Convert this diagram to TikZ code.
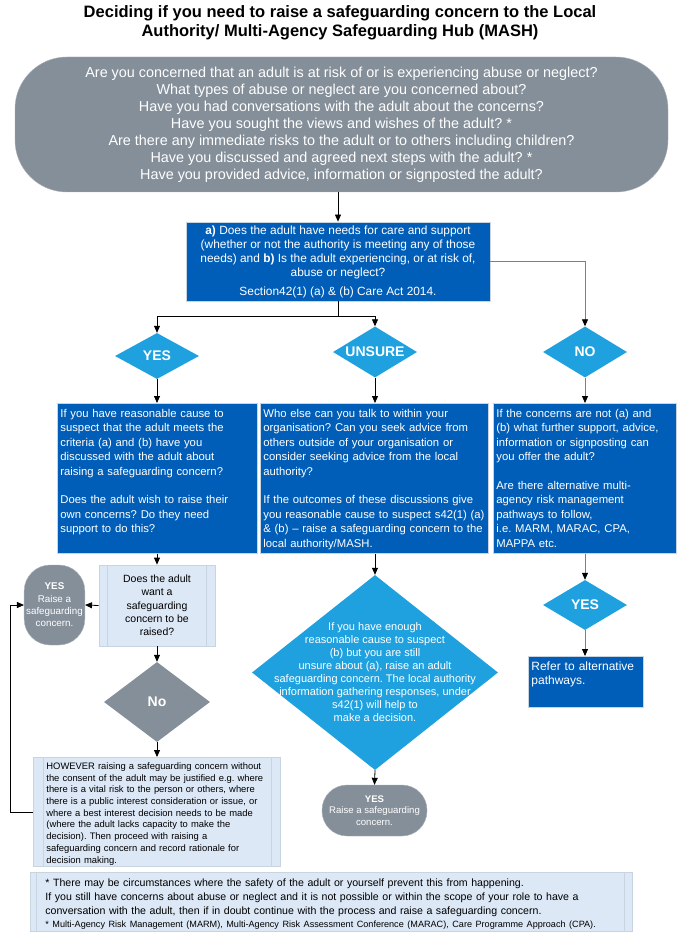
\documentclass[tikz,border=0pt]{standalone}
\usepackage{fontspec}
\setmainfont{Liberation Sans}
\usetikzlibrary{shapes.geometric,arrows.meta}
\frenchspacing

\definecolor{mashgray}{HTML}{858F99}
\definecolor{mashblue}{HTML}{005EB8}
\definecolor{mashcyan}{HTML}{1FA1DF}
\definecolor{mashpale}{HTML}{DCE8F6}
\definecolor{mashedge}{HTML}{C8D4E0}
\definecolor{mashline}{HTML}{7F7F7F}

\tikzset{
  heading/.style={align=center, font=\bfseries\fontsize{16.5}{19.5}\selectfont},
  greyend/.style={fill=mashgray, draw=mashgray!70!white, text=white, align=center, inner sep=2pt},
  bluefill/.style={fill=mashblue, draw=mashedge, line width=0.8pt, text=white},
  darkbox/.style={bluefill, anchor=north west, align=left, inner xsep=3pt, inner ysep=3pt,
    text height=11pt, font=\fontsize{11.3}{14.4}\selectfont},
  palebox/.style={fill=mashpale, draw=mashedge, line width=0.8pt, text=black},
  choice/.style={diamond, fill=mashcyan, text=white, inner sep=0pt, font=\bfseries\fontsize{14}{16}\selectfont},
  flow/.style={-{Triangle[length=7pt,width=6pt]}, line width=0.8pt},
  flowgrey/.style={-{Triangle[length=7pt,width=6pt,color=black]}, line width=0.8pt, draw=mashline},
}

\begin{document}
\begin{tikzpicture}[x=1pt,y=-1pt]
  \useasboundingbox (0,0) rectangle (680,933);

  % heading and opening questions
  \node[heading] (head) at (340,23) {Deciding if you need to raise a safeguarding concern to the Local\\Authority/ Multi-Agency Safeguarding Hub (MASH)};
  \node[greyend, minimum width=653pt, minimum height=135pt, rounded corners=52pt,
        font=\fontsize{14.4}{17}\selectfont] (concern) at (341.5,124.5)
    {Are you concerned that an adult is at risk of or is experiencing abuse or neglect?\\
     What types of abuse or neglect are you concerned about?\\
     Have you had conversations with the adult about the concerns?\\
     Have you sought the views and wishes of the adult? *\\
     Are there any immediate risks to the adult or to others including children?\\
     Have you discussed and agreed next steps with the adult? *\\
     Have you provided advice, information or signposted the adult?};

  \node[bluefill, align=center, minimum width=304pt, minimum height=79pt,
        font=\fontsize{11.9}{14}\selectfont] (needs) at (338,261.5)
    {\textbf{a)} Does the adult have needs for care and support\\
     (whether or not the authority is meeting any of those\\
     needs) and \textbf{b)} Is the adult experiencing, or at risk of,\\
     abuse or neglect?\\[5pt]
     Section42(1) (a) \& (b) Care Act 2014.};

  % three answers
  \node[choice, aspect=1.8, minimum width=84pt, minimum height=46pt] (yes) at (157,356) {YES};
  \node[choice, aspect=1.6, minimum width=84pt, minimum height=51pt] (unsure) at (375,352) {UNSURE};
  \node[choice, aspect=1.6, minimum width=84pt, minimum height=51pt] (no) at (585,352) {NO};

  \node[darkbox, minimum width=200pt, minimum height=150pt, text width=194pt, text depth=133pt] (yesbox) at (57,403)
    {If you have reasonable cause to\\
     suspect that the adult meets the\\
     criteria (a) and (b) have you\\
     discussed with the adult about\\
     raising a safeguarding concern?\\[\baselineskip]
     Does the adult wish to raise their\\
     own concerns? Do they need\\
     support to do this?};
  \node[darkbox, minimum width=228pt, minimum height=150pt, text width=222pt, text depth=133pt] (unsurebox) at (260,403)
    {Who else can you talk to within your\\
     organisation? Can you seek advice from\\
     others outside of your organisation or\\
     consider seeking advice from the local\\
     authority?\\[\baselineskip]
     If the outcomes of these discussions give\\
     you reasonable cause to suspect s42(1) (a)\\
     \& (b) -- raise a safeguarding concern to the\\
     local authority/MASH.};
  \node[darkbox, minimum width=183pt, minimum height=150pt, text width=177pt, text depth=133pt] (nobox) at (493,403)
    {If the concerns are not (a) and\\
     (b) what further support, advice,\\
     information or signposting can\\
     you offer the adult?\\[\baselineskip]
     Are there alternative multi-\\
     agency risk management\\
     pathways to follow,\\
     i.e. MARM, MARAC, CPA,\\
     MAPPA etc.};

  % yes column
  \node[palebox, minimum width=116pt, minimum height=81pt, align=center,
        font=\fontsize{10.5}{13.3}\selectfont] (wants) at (157,605.5)
    {Does the adult\\want a\\safeguarding\\concern to be\\raised?};
  \draw[mashedge] ([xshift=9pt]wants.north west) -- ([xshift=9pt]wants.south west)
                  ([xshift=-9pt]wants.north east) -- ([xshift=-9pt]wants.south east);
  \node[greyend, minimum width=59pt, minimum height=80pt, rounded corners=26pt,
        font=\fontsize{9.8}{12.3}\selectfont] (raiseyes) at (54.5,605)
    {\textbf{YES}\\Raise a\\safeguarding\\concern.};
  \node[diamond, fill=mashgray, text=white, inner sep=0pt, aspect=1.3, minimum width=106pt, minimum height=80pt,
        font=\bfseries\fontsize{14}{16}\selectfont] (nope) at (157,702) {No};
  \node[palebox, anchor=north west, align=left, minimum width=247pt, minimum height=109pt,
        inner xsep=13pt, inner ysep=3pt, text width=221pt, text height=9pt, text depth=94pt,
        font=\fontsize{9.4}{11.7}\selectfont] (however) at (33,757)
    {HOWEVER raising a safeguarding concern without\\
     the consent of the adult may be justified e.g. where\\
     there is a vital risk to the person or others, where\\
     there is a public interest consideration or issue, or\\
     where a best interest decision needs to be made\\
     (where the adult lacks capacity to make the\\
     decision). Then proceed with raising a\\
     safeguarding concern and record rationale for\\
     decision making.};
  \draw[mashedge] ([xshift=10pt]however.north west) -- ([xshift=10pt]however.south west)
                  ([xshift=-10pt]however.north east) -- ([xshift=-10pt]however.south east);

  % unsure column
  \node[choice, aspect=1.26, minimum width=246pt, minimum height=195pt] (enough) at (375,672.5) {};
  \node[text=white, align=center, font=\fontsize{11}{13}\selectfont] (enoughtext) at (enough)
    {If you have enough\\
     reasonable cause to suspect\\
     (b) but you are still\\
     unsure about (a), raise an adult\\
     safeguarding concern. The local authority\\
     information gathering responses, under\\
     s42(1) will help to\\
     make a decision.};
  \node[greyend, minimum width=105pt, minimum height=51pt, rounded corners=25pt,
        font=\fontsize{9.6}{11.8}\selectfont] (raiseunsure) at (374.5,810.5)
    {\textbf{YES}\\Raise a safeguarding\\concern.};

  % no column
  \node[choice, aspect=1.7, minimum width=84pt, minimum height=50pt] (altyes) at (585,605) {YES};
  \node[darkbox, minimum width=115pt, minimum height=51pt, text width=109pt, text depth=34pt,
        font=\fontsize{12}{14}\selectfont] (refer) at (528,656)
    {Refer to alternative\\pathways.};

  % notes
  \node[palebox, anchor=north west, align=left, minimum width=602pt, minimum height=59pt,
        inner xsep=15pt, inner ysep=3pt, text width=572pt, text height=10pt, text depth=40pt,
        font=\fontsize{10.6}{13.6}\selectfont] (notes) at (30,872)
    {* There may be circumstances where the safety of the adult or yourself prevent this from happening.\\
     If you still have concerns about abuse or neglect and it is not possible or within the scope of your role to have a\\
     conversation with the adult, then if in doubt continue with the process and raise a safeguarding concern.\\
     {\fontsize{9.1}{12}\selectfont * Multi-Agency Risk Management (MARM), Multi-Agency Risk Assessment Conference (MARAC), Care Programme Approach (CPA).}};
  \draw[mashedge] ([xshift=6pt]notes.north west) -- ([xshift=6pt]notes.south west)
                  ([xshift=-9pt]notes.north east) -- ([xshift=-9pt]notes.south east);

  % connectors
  \coordinate (fork) at (338,316);
  \draw[flow] (needs.north |- concern.south) -- (needs.north);
  \draw[line width=0.8pt] (needs.south) -- (fork);
  \draw[flow] (fork) -| (yes.north);
  \draw[flow] (fork) -| (unsure.north);
  \draw[flowgrey] (needs.east) -| (no.north);
  \draw[flow] (yes.south) -- (yes.south |- yesbox.north);
  \draw[flow] (unsure.south) -- (unsure.south |- unsurebox.north);
  \draw[flowgrey] (no.south) -- (no.south |- nobox.north);
  \draw[flow] (wants.north |- yesbox.south) -- (wants.north);
  \draw[flow] (wants.west) -- (raiseyes.east);
  \draw[flow] (wants.south) -- (nope.north);
  \draw[flow] (nope.south) -- (nope.south |- however.north);
  \draw[flow] (however.west) -- ++(-23,0) |- (raiseyes.west);
  \draw[flow] (enough.north |- unsurebox.south) -- (enough.north);
  \draw[flow] (enough.south) -- (raiseunsure.north);
  \draw[flowgrey] (altyes.north |- nobox.south) -- (altyes.north);
  \draw[flowgrey] (altyes.south) -- (altyes.south |- refer.north);
\end{tikzpicture}
\end{document}
